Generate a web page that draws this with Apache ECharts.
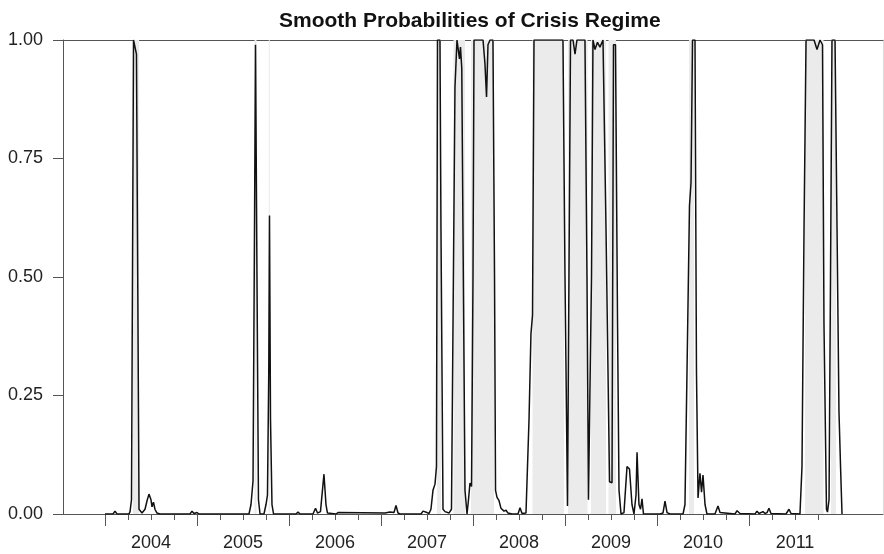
<!DOCTYPE html>
<html>
<head>
<meta charset="utf-8">
<script src="https://cdn.jsdelivr.net/npm/echarts@6/dist/echarts.min.js"></script>
<style>
  html, body { margin: 0; padding: 0; background: #fff; }
  #main { width: 884px; height: 554px; }
</style>
</head>
<body>
<div id="main"></div>
<script>
// smoothed probability of the crisis regime (decimal years)
var dates = [
  2004.000, 2004.087, 2004.109, 2004.130, 2004.261, 2004.272, 2004.288, 2004.310, 2004.326, 2004.342,
  2004.370, 2004.402, 2004.435, 2004.457, 2004.478, 2004.500, 2004.511, 2004.527, 2004.543, 2004.565,
  2004.598, 2004.924, 2004.946, 2004.967, 2005.000, 2005.022, 2005.565, 2005.587, 2005.609, 2005.625,
  2005.636, 2005.652, 2005.668, 2005.685, 2005.728, 2005.750, 2005.766, 2005.780, 2005.788, 2005.799,
  2005.815, 2005.832, 2006.076, 2006.098, 2006.120, 2006.261, 2006.288, 2006.310, 2006.342, 2006.380,
  2006.402, 2006.418, 2006.511, 2006.533, 2006.554, 2007.043, 2007.098, 2007.141, 2007.163, 2007.185,
  2007.207, 2007.435, 2007.457, 2007.478, 2007.500, 2007.522, 2007.543, 2007.565, 2007.587, 2007.603,
  2007.614, 2007.641, 2007.652, 2007.674, 2007.696, 2007.717, 2007.739, 2007.766, 2007.804, 2007.826,
  2007.837, 2007.853, 2007.864, 2007.878, 2007.891, 2007.913, 2007.935, 2007.951, 2007.967, 2007.984,
  2008.000, 2008.011, 2008.109, 2008.130, 2008.147, 2008.163, 2008.185, 2008.217, 2008.234, 2008.245,
  2008.261, 2008.283, 2008.304, 2008.321, 2008.337, 2008.359, 2008.380, 2008.424, 2008.489, 2008.511,
  2008.533, 2008.576, 2008.609, 2008.630, 2008.647, 2008.663, 2008.978, 2009.000, 2009.027, 2009.043,
  2009.060, 2009.087, 2009.109, 2009.130, 2009.217, 2009.239, 2009.255, 2009.272, 2009.288, 2009.304,
  2009.326, 2009.353, 2009.380, 2009.413, 2009.446, 2009.484, 2009.511, 2009.527, 2009.549, 2009.571,
  2009.587, 2009.609, 2009.641, 2009.674, 2009.688, 2009.701, 2009.728, 2009.750, 2009.772, 2009.783,
  2009.804, 2009.821, 2009.837, 2009.853, 2010.033, 2010.065, 2010.087, 2010.109, 2010.141, 2010.283,
  2010.304, 2010.326, 2010.353, 2010.370, 2010.386, 2010.413, 2010.429, 2010.446, 2010.467, 2010.484,
  2010.500, 2010.522, 2010.543, 2010.630, 2010.663, 2010.685, 2010.848, 2010.870, 2010.902, 2011.065,
  2011.087, 2011.109, 2011.130, 2011.152, 2011.174, 2011.196, 2011.217, 2011.239, 2011.402, 2011.435,
  2011.457, 2011.554, 2011.576, 2011.598, 2011.620, 2011.707, 2011.739, 2011.772, 2011.799, 2011.815,
  2011.842, 2011.853, 2011.870, 2011.886, 2011.902, 2011.935, 2011.957, 2011.978, 2011.995, 2012.011
];
var probs = [
  0, 0, 0.006, 0, 0, 0.005, 0.03, 1.0, 1.0, 0.97,
  0.01, 0.002, 0.01, 0.028, 0.042, 0.03, 0.015, 0.025, 0.01, 0.002,
  0, 0, 0.006, 0.001, 0.003, 0, 0, 0.02, 0.07, 0.6,
  0.99, 0.5, 0.03, 0, 0, 0.02, 0.04, 0.3, 0.63, 0.2,
  0.02, 0, 0, 0.004, 0, 0, 0.012, 0.002, 0.005, 0.084,
  0.02, 0.002, 0, 0.003, 0, 0.002, 0.004, 0.003, 0.018, 0.002,
  0, 0, 0.006, 0.009, 0.003, 0.001, 0.01, 0.05, 0.063, 0.1,
  1.0, 1.0, 0.6, 0.01, 0.005, 0.008, 0.002, 0.01, 0.9, 1.0,
  1.0, 0.96, 0.985, 0.94, 0.6, 0.05, 0, 0.03, 0.065, 0.058,
  0.5, 1.0, 1.0, 0.95, 0.88, 0.99, 1.0, 1.0, 0.5, 0.05,
  0.035, 0.028, 0.012, 0.015, 0.006, 0.008, 0.002, 0, 0, 0.013,
  0.001, 0.002, 0.2, 0.38, 0.42, 1.0, 1.0, 0.5, 0.017, 0.5,
  1.0, 1.0, 0.97, 1.0, 1.0, 0.5, 0.03, 0.03, 0.5, 1.0,
  0.98, 0.995, 0.985, 1.0, 0.6, 0.068, 0.066, 0.99, 0.99, 0.4,
  0.05, 0, 0.003, 0.1, 0.098, 0.095, 0.02, 0, 0.04, 0.13,
  0.02, 0.01, 0.032, 0, 0, 0.002, 0.027, 0.003, 0, 0,
  0.02, 0.3, 0.65, 0.7, 1.0, 1.0, 0.3, 0.034, 0.086, 0.046,
  0.082, 0.02, 0, 0, 0.017, 0.003, 0, 0.007, 0.001, 0,
  0.006, 0.001, 0.002, 0.005, 0.001, 0.003, 0.012, 0.001, 0, 0.01,
  0.001, 0, 0.1, 0.6, 1.0, 1.0, 0.98, 1.0, 0.99, 0.4,
  0.01, 0.004, 0.03, 0.5, 1.0, 1.0, 0.6, 0.215, 0.1, 0
];
// shaded crisis periods
var crisisStart = [2004.304, 2005.625, 2005.780, 2007.609, 2007.788, 2007.978, 2008.647, 2009.033, 2009.283, 2009.473, 2010.348, 2011.609, 2011.891];
var crisisEnd   = [2004.370, 2005.647, 2005.791, 2007.652, 2007.913, 2008.228, 2008.989, 2009.245, 2009.446, 2009.554, 2010.402, 2011.810, 2011.946];

var yearTicks = [2004, 2005, 2006, 2007, 2008, 2009, 2010, 2011];
var quarterTicks = [
  2004.25, 2004.5, 2004.75, 2005.25, 2005.5, 2005.75, 2006.25, 2006.5, 2006.75,
  2007.25, 2007.5, 2007.75, 2008.25, 2008.5, 2008.75, 2009.25, 2009.5, 2009.75,
  2010.25, 2010.5, 2010.75, 2011.25, 2011.5, 2011.75
];
var yearLabelPos = [2004.5, 2005.5, 2006.5, 2007.5, 2008.5, 2009.5, 2010.5, 2011.5];

var xMin = 2003.5435, xMax = 2012.4565;
var axisColor = '#555';
var font = 'Liberation Sans, Arial, sans-serif';

var lineData = dates.map(function (d, i) { return [d, probs[i]] });
var areas = crisisStart.map(function (s, i) { return [{ xAxis: s }, { xAxis: crisisEnd[i] }] });

var myChart = echarts.init(document.getElementById('main'));
myChart.setOption({
  animation: false,
  title: {
    text: 'Smooth Probabilities of Crisis Regime',
    left: 274,
    top: 6,
    textStyle: { fontFamily: font, fontSize: 21, fontWeight: 'bold', color: '#111' }
  },
  grid: { left: 63, right: 1, top: 40, bottom: 40, outerBoundsMode: 'none' },
  xAxis: [
    {
      type: 'value', min: xMin, max: xMax, position: 'bottom',
      axisLine: { show: true, lineStyle: { color: axisColor, width: 1 } },
      axisTick: { show: true, customValues: yearTicks, length: 12, lineStyle: { color: axisColor } },
      axisLabel: {
        customValues: yearLabelPos, margin: 20,
        fontFamily: font, fontSize: 18, color: '#222',
        formatter: function (v) { return String(Math.floor(v)) }
      },
      splitLine: { show: false }
    },
    {
      type: 'value', min: xMin, max: xMax, position: 'bottom',
      axisLine: { show: false },
      axisTick: { show: true, customValues: quarterTicks, length: 6, lineStyle: { color: axisColor } },
      axisLabel: { show: false },
      splitLine: { show: false }
    },
    {
      type: 'value', min: xMin, max: xMax, position: 'top',
      axisLine: { show: true, lineStyle: { color: axisColor, width: 1 } },
      axisTick: { show: false },
      axisLabel: { show: false },
      splitLine: { show: false }
    }
  ],
  yAxis: [
    {
      type: 'value', min: 0, max: 1, interval: 0.25, position: 'left',
      axisLine: { show: true, lineStyle: { color: axisColor, width: 1 } },
      axisTick: { show: true, length: 10, lineStyle: { color: axisColor } },
      axisLabel: {
        margin: 20, fontFamily: font, fontSize: 18, color: '#222',
        formatter: function (v) { return v.toFixed(2) }
      },
      splitLine: { show: false }
    },
    {
      type: 'value', min: 0, max: 1, position: 'right',
      axisLine: { show: true, lineStyle: { color: '#ddd', width: 1 } },
      axisTick: { show: false },
      axisLabel: { show: false },
      splitLine: { show: false }
    }
  ],
  series: [
    {
      // shading only, kept under the axis lines
      name: 'regime',
      type: 'line',
      z: -1,
      data: [],
      markArea: {
        silent: true,
        itemStyle: { color: '#ebebeb' },
        data: areas
      }
    },
    {
      name: 'crisis',
      type: 'line',
      z: 3,
      data: lineData,
      showSymbol: false,
      lineStyle: { color: '#111', width: 1.5 }
    }
  ]
});
</script>
</body>
</html>
